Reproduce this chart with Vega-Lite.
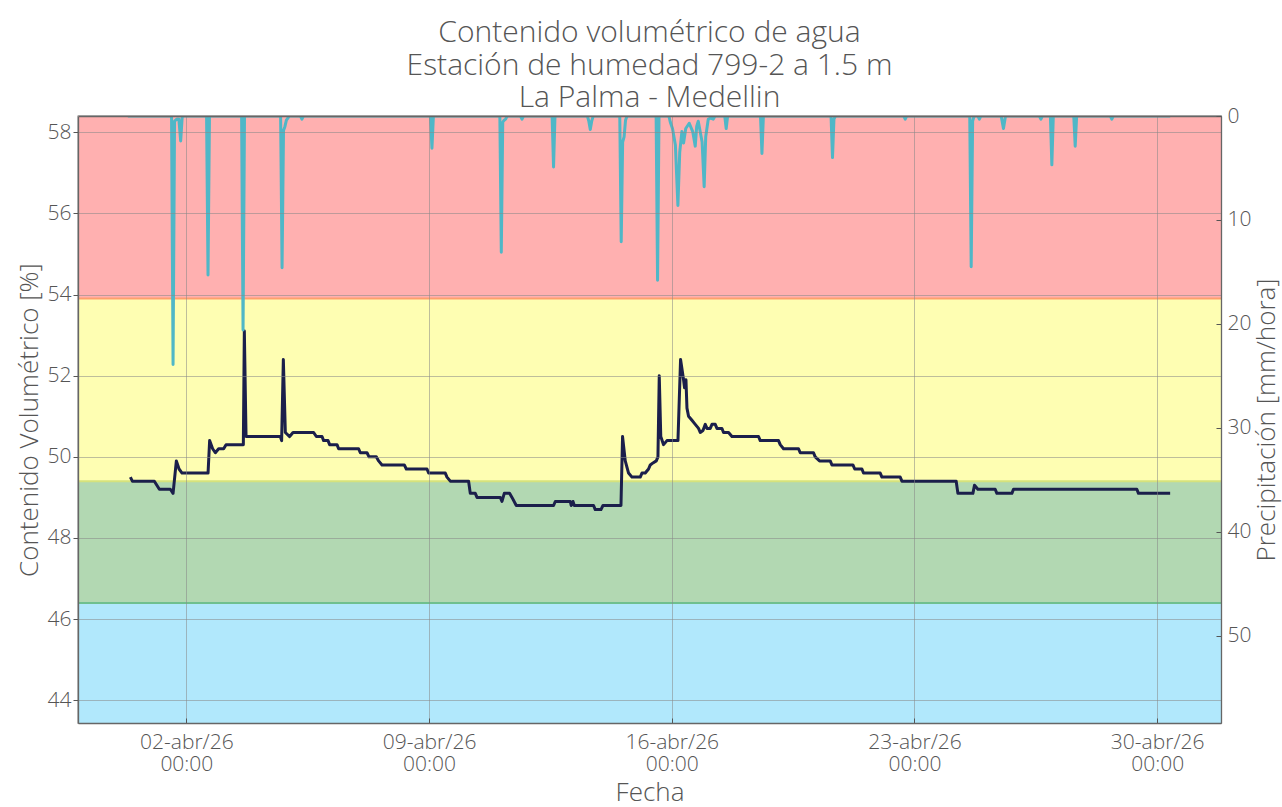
{
  "$schema": "https://vega.github.io/schema/vega-lite/v6.json",
  "width": 1143,
  "height": 607,
  "autosize": {"type": "none"},
  "padding": {"left": 78, "top": 116, "right": 61, "bottom": 84},
  "background": "white",
  "title": {
    "text": ["Contenido volumétrico de agua", "Estación de humedad 799-2 a 1.5 m", "La Palma - Medellin"],
    "fontSize": 30, "lineHeight": 32.5, "color": "#555555", "font": "Open Sans", "fontWeight": 300,
    "anchor": "middle", "offset": -8
  },
  "datasets": {
    "bandas": [
      {"zona": "bajo", "lo": 40, "hi": 46.4},
      {"zona": "optimo", "lo": 46.4, "hi": 49.4},
      {"zona": "alto", "lo": 49.4, "hi": 53.9},
      {"zona": "saturado", "lo": 53.9, "hi": 62}
    ],
    "humedad": [
      {"t": "2026-03-31T09:15", "v": 49.5},
      {"t": "2026-03-31T10:38", "v": 49.4},
      {"t": "2026-04-01T01:51", "v": 49.4},
      {"t": "2026-04-01T05:19", "v": 49.2},
      {"t": "2026-04-01T12:56", "v": 49.2},
      {"t": "2026-04-01T14:48", "v": 49.1},
      {"t": "2026-04-01T17:05", "v": 49.9},
      {"t": "2026-04-01T18:57", "v": 49.7},
      {"t": "2026-04-01T21:01", "v": 49.6},
      {"t": "2026-04-02T15:01", "v": 49.6},
      {"t": "2026-04-02T16:07", "v": 50.4},
      {"t": "2026-04-02T18:12", "v": 50.2},
      {"t": "2026-04-02T20:04", "v": 50.1},
      {"t": "2026-04-02T22:21", "v": 50.2},
      {"t": "2026-04-03T01:49", "v": 50.2},
      {"t": "2026-04-03T03:28", "v": 50.3},
      {"t": "2026-04-03T15:27", "v": 50.3},
      {"t": "2026-04-03T16:08", "v": 53.1},
      {"t": "2026-04-03T17:19", "v": 50.5},
      {"t": "2026-04-04T17:03", "v": 50.5},
      {"t": "2026-04-04T17:57", "v": 50.4},
      {"t": "2026-04-04T19:08", "v": 52.4},
      {"t": "2026-04-04T20:31", "v": 50.6},
      {"t": "2026-04-04T23:29", "v": 50.5},
      {"t": "2026-04-05T01:50", "v": 50.6},
      {"t": "2026-04-05T16:06", "v": 50.6},
      {"t": "2026-04-05T17:58", "v": 50.5},
      {"t": "2026-04-05T21:55", "v": 50.5},
      {"t": "2026-04-05T23:01", "v": 50.4},
      {"t": "2026-04-06T02:04", "v": 50.4},
      {"t": "2026-04-06T03:10", "v": 50.3},
      {"t": "2026-04-06T08:17", "v": 50.3},
      {"t": "2026-04-06T09:24", "v": 50.2},
      {"t": "2026-04-06T23:14", "v": 50.2},
      {"t": "2026-04-07T00:25", "v": 50.1},
      {"t": "2026-04-07T05:03", "v": 50.1},
      {"t": "2026-04-07T06:26", "v": 50.0},
      {"t": "2026-04-07T11:29", "v": 50.0},
      {"t": "2026-04-07T13:05", "v": 49.9},
      {"t": "2026-04-07T15:26", "v": 49.8},
      {"t": "2026-04-08T06:52", "v": 49.8},
      {"t": "2026-04-08T08:15", "v": 49.7},
      {"t": "2026-04-08T22:34", "v": 49.7},
      {"t": "2026-04-08T23:41", "v": 49.6},
      {"t": "2026-04-09T11:14", "v": 49.6},
      {"t": "2026-04-09T12:25", "v": 49.5},
      {"t": "2026-04-09T14:42", "v": 49.4},
      {"t": "2026-04-10T03:22", "v": 49.4},
      {"t": "2026-04-10T04:32", "v": 49.1},
      {"t": "2026-04-10T08:00", "v": 49.1},
      {"t": "2026-04-10T09:11", "v": 49.0},
      {"t": "2026-04-11T01:18", "v": 49.0},
      {"t": "2026-04-11T02:28", "v": 48.9},
      {"t": "2026-04-11T04:04", "v": 49.1},
      {"t": "2026-04-11T07:44", "v": 49.1},
      {"t": "2026-04-11T09:24", "v": 49.0},
      {"t": "2026-04-11T12:22", "v": 48.8},
      {"t": "2026-04-12T14:11", "v": 48.8},
      {"t": "2026-04-12T15:22", "v": 48.9},
      {"t": "2026-04-13T01:44", "v": 48.9},
      {"t": "2026-04-13T02:26", "v": 48.8},
      {"t": "2026-04-13T03:37", "v": 48.9},
      {"t": "2026-04-13T04:31", "v": 48.8},
      {"t": "2026-04-13T17:52", "v": 48.8},
      {"t": "2026-04-13T19:02", "v": 48.7},
      {"t": "2026-04-13T22:59", "v": 48.7},
      {"t": "2026-04-14T00:22", "v": 48.8},
      {"t": "2026-04-14T12:50", "v": 48.8},
      {"t": "2026-04-14T13:56", "v": 50.5},
      {"t": "2026-04-14T15:48", "v": 49.9},
      {"t": "2026-04-14T18:05", "v": 49.6},
      {"t": "2026-04-14T20:26", "v": 49.5},
      {"t": "2026-04-15T02:11", "v": 49.5},
      {"t": "2026-04-15T03:22", "v": 49.6},
      {"t": "2026-04-15T05:39", "v": 49.6},
      {"t": "2026-04-15T07:56", "v": 49.7},
      {"t": "2026-04-15T09:07", "v": 49.8},
      {"t": "2026-04-15T10:59", "v": 49.85},
      {"t": "2026-04-15T13:16", "v": 49.9},
      {"t": "2026-04-15T14:26", "v": 50.0},
      {"t": "2026-04-15T15:20", "v": 52.0},
      {"t": "2026-04-15T16:23", "v": 50.5},
      {"t": "2026-04-15T18:19", "v": 50.3},
      {"t": "2026-04-15T20:40", "v": 50.4},
      {"t": "2026-04-16T04:17", "v": 50.4},
      {"t": "2026-04-16T06:05", "v": 52.4},
      {"t": "2026-04-16T08:10", "v": 51.9},
      {"t": "2026-04-16T08:51", "v": 51.7},
      {"t": "2026-04-16T09:49", "v": 51.9},
      {"t": "2026-04-16T10:31", "v": 51.2},
      {"t": "2026-04-16T11:37", "v": 51.0},
      {"t": "2026-04-16T13:58", "v": 50.9},
      {"t": "2026-04-16T16:15", "v": 50.8},
      {"t": "2026-04-16T18:32", "v": 50.7},
      {"t": "2026-04-16T19:43", "v": 50.6},
      {"t": "2026-04-16T21:35", "v": 50.65},
      {"t": "2026-04-16T23:11", "v": 50.8},
      {"t": "2026-04-17T00:21", "v": 50.7},
      {"t": "2026-04-17T02:38", "v": 50.7},
      {"t": "2026-04-17T03:49", "v": 50.8},
      {"t": "2026-04-17T06:06", "v": 50.8},
      {"t": "2026-04-17T07:16", "v": 50.7},
      {"t": "2026-04-17T10:44", "v": 50.7},
      {"t": "2026-04-17T11:50", "v": 50.6},
      {"t": "2026-04-17T15:18", "v": 50.6},
      {"t": "2026-04-17T17:39", "v": 50.5},
      {"t": "2026-04-18T12:04", "v": 50.5},
      {"t": "2026-04-18T13:14", "v": 50.4},
      {"t": "2026-04-19T01:54", "v": 50.4},
      {"t": "2026-04-19T03:04", "v": 50.3},
      {"t": "2026-04-19T05:22", "v": 50.2},
      {"t": "2026-04-19T15:44", "v": 50.2},
      {"t": "2026-04-19T16:55", "v": 50.1},
      {"t": "2026-04-20T02:07", "v": 50.1},
      {"t": "2026-04-20T03:17", "v": 50.0},
      {"t": "2026-04-20T06:16", "v": 49.9},
      {"t": "2026-04-20T13:41", "v": 49.9},
      {"t": "2026-04-20T14:51", "v": 49.8},
      {"t": "2026-04-21T05:23", "v": 49.8},
      {"t": "2026-04-21T06:38", "v": 49.7},
      {"t": "2026-04-21T11:37", "v": 49.7},
      {"t": "2026-04-21T12:43", "v": 49.6},
      {"t": "2026-04-22T00:17", "v": 49.6},
      {"t": "2026-04-22T01:27", "v": 49.5},
      {"t": "2026-04-22T14:07", "v": 49.5},
      {"t": "2026-04-22T15:18", "v": 49.4},
      {"t": "2026-04-24T04:52", "v": 49.4},
      {"t": "2026-04-24T06:03", "v": 49.1},
      {"t": "2026-04-24T16:26", "v": 49.1},
      {"t": "2026-04-24T17:32", "v": 49.3},
      {"t": "2026-04-24T19:53", "v": 49.2},
      {"t": "2026-04-25T07:52", "v": 49.2},
      {"t": "2026-04-25T09:02", "v": 49.1},
      {"t": "2026-04-25T19:25", "v": 49.1},
      {"t": "2026-04-25T20:32", "v": 49.2},
      {"t": "2026-04-29T09:55", "v": 49.2},
      {"t": "2026-04-29T11:02", "v": 49.1},
      {"t": "2026-04-30T08:58", "v": 49.1}
    ],
    "lluvia": [
      {"t": "2026-03-31T07:30", "p": 0},
      {"t": "2026-04-01T13:45", "p": 0},
      {"t": "2026-04-01T14:48", "p": 23.9},
      {"t": "2026-04-01T15:50", "p": 0.5},
      {"t": "2026-04-01T17:26", "p": 0.3},
      {"t": "2026-04-01T18:49", "p": 0.3},
      {"t": "2026-04-01T20:04", "p": 2.4},
      {"t": "2026-04-01T21:10", "p": 0},
      {"t": "2026-04-02T14:00", "p": 0},
      {"t": "2026-04-02T15:00", "p": 15.3},
      {"t": "2026-04-02T16:00", "p": 0},
      {"t": "2026-04-03T14:15", "p": 0},
      {"t": "2026-04-03T15:15", "p": 20.6},
      {"t": "2026-04-03T16:15", "p": 0},
      {"t": "2026-04-04T17:15", "p": 0},
      {"t": "2026-04-04T18:15", "p": 14.6},
      {"t": "2026-04-04T19:15", "p": 1.4},
      {"t": "2026-04-04T20:15", "p": 1.0},
      {"t": "2026-04-04T21:15", "p": 0.4},
      {"t": "2026-04-04T22:15", "p": 0.2},
      {"t": "2026-04-04T23:15", "p": 0},
      {"t": "2026-04-05T07:00", "p": 0},
      {"t": "2026-04-05T08:00", "p": 0.3},
      {"t": "2026-04-05T09:00", "p": 0},
      {"t": "2026-04-09T01:00", "p": 0},
      {"t": "2026-04-09T02:00", "p": 3.1},
      {"t": "2026-04-09T03:00", "p": 0},
      {"t": "2026-04-11T01:00", "p": 0},
      {"t": "2026-04-11T02:00", "p": 13.1},
      {"t": "2026-04-11T03:00", "p": 0.6},
      {"t": "2026-04-11T04:00", "p": 0.4},
      {"t": "2026-04-11T05:00", "p": 0.3},
      {"t": "2026-04-11T06:00", "p": 0},
      {"t": "2026-04-11T15:20", "p": 0},
      {"t": "2026-04-11T16:20", "p": 0.3},
      {"t": "2026-04-11T17:20", "p": 0},
      {"t": "2026-04-12T13:10", "p": 0},
      {"t": "2026-04-12T14:10", "p": 4.9},
      {"t": "2026-04-12T15:10", "p": 0},
      {"t": "2026-04-13T13:35", "p": 0},
      {"t": "2026-04-13T14:35", "p": 0.5},
      {"t": "2026-04-13T15:35", "p": 1.3},
      {"t": "2026-04-13T16:35", "p": 0.5},
      {"t": "2026-04-13T17:35", "p": 0},
      {"t": "2026-04-14T12:00", "p": 0},
      {"t": "2026-04-14T13:00", "p": 12.1},
      {"t": "2026-04-14T14:00", "p": 2.5},
      {"t": "2026-04-14T15:00", "p": 2.0},
      {"t": "2026-04-14T16:00", "p": 0.4},
      {"t": "2026-04-14T17:00", "p": 0},
      {"t": "2026-04-15T13:10", "p": 0},
      {"t": "2026-04-15T14:10", "p": 15.8},
      {"t": "2026-04-15T15:10", "p": 0},
      {"t": "2026-04-15T22:00", "p": 0},
      {"t": "2026-04-15T23:00", "p": 0.6},
      {"t": "2026-04-16T00:30", "p": 1.2},
      {"t": "2026-04-16T02:30", "p": 2.8},
      {"t": "2026-04-16T04:15", "p": 8.6},
      {"t": "2026-04-16T05:30", "p": 3.5},
      {"t": "2026-04-16T07:00", "p": 1.5},
      {"t": "2026-04-16T08:10", "p": 2.6},
      {"t": "2026-04-16T09:40", "p": 1.2},
      {"t": "2026-04-16T12:05", "p": 0.7},
      {"t": "2026-04-16T14:30", "p": 1.5},
      {"t": "2026-04-16T16:15", "p": 2.9},
      {"t": "2026-04-16T17:15", "p": 1.0},
      {"t": "2026-04-16T18:20", "p": 0.5},
      {"t": "2026-04-16T21:00", "p": 2.5},
      {"t": "2026-04-16T22:25", "p": 6.8},
      {"t": "2026-04-16T23:30", "p": 2.0},
      {"t": "2026-04-17T01:15", "p": 0.3},
      {"t": "2026-04-17T03:00", "p": 0.2},
      {"t": "2026-04-17T04:40", "p": 0.3},
      {"t": "2026-04-17T06:00", "p": 0},
      {"t": "2026-04-17T12:40", "p": 0},
      {"t": "2026-04-17T13:40", "p": 1.2},
      {"t": "2026-04-17T14:40", "p": 0},
      {"t": "2026-04-18T13:25", "p": 0},
      {"t": "2026-04-18T14:25", "p": 3.6},
      {"t": "2026-04-18T15:25", "p": 0},
      {"t": "2026-04-20T14:15", "p": 0},
      {"t": "2026-04-20T15:15", "p": 4.0},
      {"t": "2026-04-20T16:15", "p": 0.3},
      {"t": "2026-04-20T17:15", "p": 0},
      {"t": "2026-04-22T16:35", "p": 0},
      {"t": "2026-04-22T17:35", "p": 0.3},
      {"t": "2026-04-22T18:35", "p": 0},
      {"t": "2026-04-24T14:15", "p": 0},
      {"t": "2026-04-24T15:15", "p": 14.5},
      {"t": "2026-04-24T16:15", "p": 0.5},
      {"t": "2026-04-24T17:15", "p": 0},
      {"t": "2026-04-24T19:55", "p": 0},
      {"t": "2026-04-24T20:55", "p": 0.3},
      {"t": "2026-04-24T21:55", "p": 0},
      {"t": "2026-04-25T12:00", "p": 0},
      {"t": "2026-04-25T13:35", "p": 1.2},
      {"t": "2026-04-25T15:00", "p": 0},
      {"t": "2026-04-26T14:30", "p": 0},
      {"t": "2026-04-26T15:30", "p": 0.3},
      {"t": "2026-04-26T16:30", "p": 0},
      {"t": "2026-04-26T22:05", "p": 0},
      {"t": "2026-04-26T23:05", "p": 4.7},
      {"t": "2026-04-27T00:05", "p": 0},
      {"t": "2026-04-27T14:15", "p": 0},
      {"t": "2026-04-27T15:15", "p": 2.9},
      {"t": "2026-04-27T16:15", "p": 0},
      {"t": "2026-04-28T15:35", "p": 0},
      {"t": "2026-04-28T16:35", "p": 0.3},
      {"t": "2026-04-28T17:35", "p": 0},
      {"t": "2026-04-30T09:00", "p": 0}
    ]
  },
  "layer": [
    {
      "layer": [
        {
          "data": {"name": "bandas"},
          "mark": {"type": "rect", "clip": true},
          "encoding": {
            "y": {"field": "lo", "type": "quantitative", "scale": {"domain": [43.44, 58.4], "nice": false, "zero": false},
              "axis": {"orient": "left", "title": "Contenido Volumétrico [%]", "values": [44, 46, 48, 50, 52, 54, 56, 58], "grid": true, "tickSize": 5, "labelPadding": 2, "titlePadding": 5, "zindex": 1}},
            "y2": {"field": "hi"},
            "fill": {"field": "zona", "type": "nominal", "legend": null,
              "scale": {"domain": ["bajo", "optimo", "alto", "saturado"], "range": ["#b1e8fc", "#b2d8b2", "#fefeb2", "#ffb0b0"]}}
          }
        },
        {
          "data": {"name": "bandas"},
          "mark": {"type": "rule", "clip": true, "strokeWidth": 2},
          "encoding": {
            "y": {"field": "lo", "type": "quantitative",
              "axis": {"orient": "left", "title": "Contenido Volumétrico [%]", "values": [44, 46, 48, 50, 52, 54, 56, 58], "grid": true, "tickSize": 5, "labelPadding": 2, "titlePadding": 5, "zindex": 1}},
            "stroke": {"field": "zona", "type": "nominal", "legend": null,
              "scale": {"domain": ["bajo", "optimo", "alto", "saturado"], "range": ["#7fcbe8", "#6fc08e", "#d6e27c", "#ff9f6e"]}}
          }
        },
        {
          "data": {"name": "humedad"},
          "mark": {"type": "line", "color": "#1b1f4b", "strokeWidth": 3, "clip": true, "strokeJoin": "round"},
          "encoding": {
            "x": {"field": "t", "type": "temporal",
              "scale": {"domain": [{"year": 2026, "month": 3, "date": 29, "hours": 21, "minutes": 0}, {"year": 2026, "month": 5, "date": 1, "hours": 20, "minutes": 10}]},
              "axis": {"orient": "bottom", "title": "Fecha", "grid": true, "tickSize": -5, "labelPadding": 13, "titlePadding": 5, "zindex": 1,
                "values": [{"year": 2026, "month": 4, "date": 2}, {"year": 2026, "month": 4, "date": 9}, {"year": 2026, "month": 4, "date": 16}, {"year": 2026, "month": 4, "date": 23}, {"year": 2026, "month": 4, "date": 30}],
                "labelExpr": "[timeFormat(datum.value, '%d') + '-abr/' + timeFormat(datum.value, '%y'), timeFormat(datum.value, '%H:%M')]",
                "labelLineHeight": 22}},
            "y": {"field": "v", "type": "quantitative",
              "axis": {"orient": "left", "title": "Contenido Volumétrico [%]", "values": [44, 46, 48, 50, 52, 54, 56, 58], "grid": true, "tickSize": 5, "labelPadding": 2, "titlePadding": 5, "zindex": 1}}
          }
        }
      ]
    },
    {
      "data": {"name": "lluvia"},
      "mark": {"type": "line", "color": "#4fb7c7", "strokeWidth": 3, "clip": true, "strokeJoin": "round"},
      "encoding": {
        "x": {"field": "t", "type": "temporal",
          "axis": {"orient": "top", "title": null, "labels": false, "ticks": false, "grid": false, "domain": true, "zindex": 1}},
        "y": {"field": "p", "type": "quantitative",
          "scale": {"domain": [0, 58.4], "reverse": true, "nice": false, "zero": false},
          "axis": {"orient": "right", "title": "Precipitación [mm/hora]", "titleAngle": 270, "titleBaseline": "top", "values": [0, 10, 20, 30, 40, 50], "grid": false, "tickSize": -5, "labelPadding": 11, "titlePadding": 3, "zindex": 1}}
      }
    }
  ],
  "resolve": {"scale": {"y": "independent"}, "axis": {"x": "independent"}},
  "config": {
    "view": {"stroke": "#666666", "strokeWidth": 1.3},
    "axis": {
      "domain": true, "domainColor": "#666666", "domainWidth": 1.3,
      "labelFont": "Open Sans", "labelFontSize": 21, "labelColor": "#555555", "labelFontWeight": 300,
      "titleFont": "Open Sans", "titleFontSize": 26, "titleColor": "#555555", "titleFontWeight": 300,
      "tickColor": "#555555", "tickWidth": 1,
      "gridColor": "#888888", "gridOpacity": 0.55, "gridWidth": 1
    }
  }
}
